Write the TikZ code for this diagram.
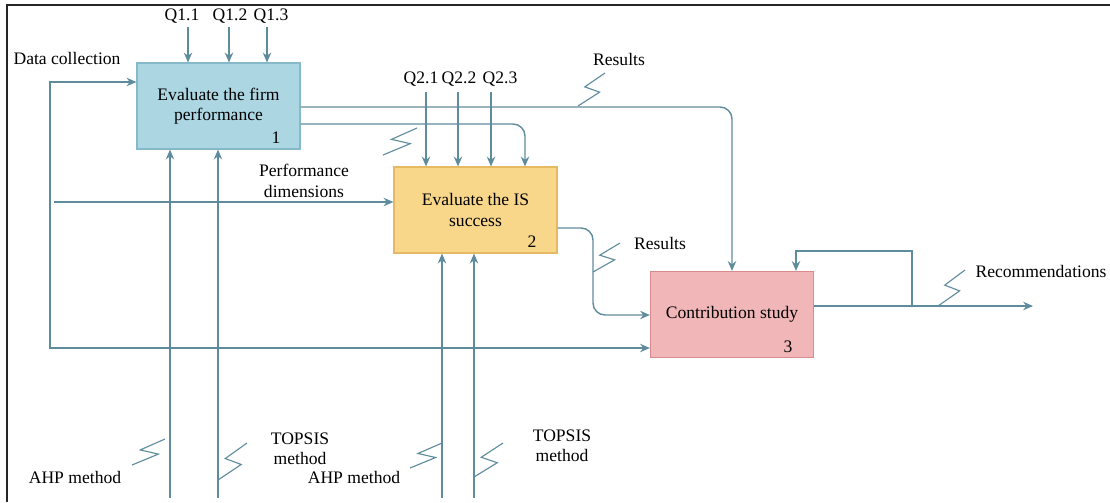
\documentclass[tikz,border=0pt]{standalone}
\usepackage{fontspec}
\setmainfont{Liberation Serif}
\usetikzlibrary{arrows.meta, calc}
\definecolor{linec}{HTML}{5F8C9C}
\definecolor{boxblue}{HTML}{ADD6E3}
\definecolor{edgeblue}{HTML}{86B9CA}
\definecolor{boxamber}{HTML}{F8D68A}
\definecolor{edgeamber}{HTML}{E6BA62}
\definecolor{boxrose}{HTML}{F0B6B8}
\definecolor{edgerose}{HTML}{D88A8E}

% lightning mark on a tunnelled arrow
\newcommand{\idefzap}[4]{\draw[linec, line width=0.8pt] (#1,#2) -- ++({0.8*#3},{-0.42*#4}) -- ++({-0.55*#3},{-0.16*#4}) -- ++({0.75*#3},{-0.42*#4});}

\begin{document}
\begin{tikzpicture}[x=0.025cm, y=-0.025cm, >={Stealth[length=7pt,width=6pt]},
  font=\fontsize{12.5}{14.5}\selectfont,
  flowline/.style={draw=linec, line width=1pt},
  box/.style={draw, line width=0.8pt, minimum width=4.075cm, minimum height=2.15cm, align=center, inner sep=2pt},
  lbl/.style={align=center, inner sep=1pt}]
  \useasboundingbox (0,0) rectangle (1110,502);
  % Frame (top and left edges)
  \draw[line width=1.5pt, black!85] (7,502) -- (7,5) -- (1110,5);

  % Activities
  \node[box, fill=boxblue, draw=edgeblue] (b1) at (218.5,106) {Evaluate the firm\\performance};
  \node[box, fill=boxamber, draw=edgeamber] (b2) at (475.5,210) {Evaluate the IS\\success};
  \node[box, fill=boxrose, draw=edgerose] (b3) at (732,314.5) {Contribution study};
  \node (n1) at (276,138) {1};
  \node (n2) at (532,242) {2};
  \node (n3) at (788,347) {3};

  % Controls of activity 1
  \node[lbl] (q11) at (182,16) {Q1.1};
  \node[lbl] (q12) at (230,16) {Q1.2};
  \node[lbl] (q13) at (271,16) {Q1.3};
  \coordinate (c11) at (188,27);
  \coordinate (c12) at (229,27);
  \coordinate (c13) at (267,27);
  \draw[flowline,->] (c11) -- (c11 |- b1.north);
  \draw[flowline,->] (c12) -- (c12 |- b1.north);
  \draw[flowline,->] (c13) -- (c13 |- b1.north);

  % Controls of activity 2
  \node[lbl] (q21) at (421,79) {Q2.1};
  \node[lbl] (q22) at (459,79) {Q2.2};
  \node[lbl] (q23) at (500,79) {Q2.3};
  \coordinate (c21) at (426,92);
  \coordinate (c22) at (458,92);
  \coordinate (c23) at (491,92);
  \draw[flowline,->] (c21) -- (c21 |- b2.north);
  \draw[flowline,->] (c22) -- (c22 |- b2.north);
  \draw[flowline,->] (c23) -- (c23 |- b2.north);

  % Data collection
  \node[lbl] (dc) at (67,58) {Data collection};
  \coordinate (dc1) at (50,82);
  \coordinate (dc2) at (50,348);
  \draw[flowline,<->] (dc1 -| b1.west) -- (dc1) -- (dc2) -- (dc2 -| b3.west);

  % Performance dimensions
  \node[lbl] (pd) at (304,181) {Performance\\dimensions};
  \coordinate (pd1) at (54,202);
  \draw[flowline,->] (pd1) -- (pd1 -| b2.west);

  % Mechanisms
  \node[lbl] (ahp1) at (75,477) {AHP method};
  \node[lbl] (top1) at (300,449) {TOPSIS\\method};
  \node[lbl] (ahp2) at (354,477) {AHP method};
  \node[lbl] (top2) at (562,446) {TOPSIS\\method};
  \coordinate (m1) at (170,498);
  \coordinate (m2) at (218,498);
  \coordinate (m3) at (442,498);
  \coordinate (m4) at (474,498);
  \draw[flowline,->] (m1) -- (m1 |- b1.south);
  \draw[flowline,->] (m2) -- (m2 |- b1.south);
  \draw[flowline,->] (m3) -- (m3 |- b2.south);
  \draw[flowline,->] (m4) -- (m4 |- b2.south);

  % Outputs
  \node[lbl] (res1) at (619,59) {Results};
  \node[lbl] (res2) at (660,243) {Results};
  \node[lbl] (rec) at (1041,271) {Recommendations};
  \coordinate (r1) at (732,107);
  \coordinate (r2) at (525,124);
  \coordinate (r3) at (593,228);
  \coordinate (r4) at (593,315);
  \draw[flowline,->,rounded corners=0.3cm] (b1.east |- r1) -- (r1) -- (r1 |- b3.north);
  \draw[flowline,->,rounded corners=0.3cm] (b1.east |- r2) -- (r2) -- (r2 |- b2.north);
  \draw[flowline,->,rounded corners=0.3cm] (b2.east |- r3) -- (r3) -- (r4) -- (r4 -| b3.west);
  \coordinate (o1) at (1033,306);
  \draw[flowline,->] (b3.east |- o1) -- (o1);

  % Feedback loop
  \coordinate (fb1) at (912,306);
  \coordinate (fb2) at (912,251);
  \coordinate (fb3) at (796,251);
  \draw[flowline,->] (fb1) -- (fb2) -- (fb3) -- (fb3 |- b3.north);

  % Lightning marks
  \idefzap{578}{106}{27}{33}
  \idefzap{383}{155}{34}{27}
  \idefzap{593}{272}{27}{29}
  \idefzap{938}{306}{27}{36}
  \idefzap{132}{465}{33}{26}
  \idefzap{218}{480}{29}{37}
  \idefzap{410}{468}{32}{25}
  \idefzap{474}{477}{29}{34}
\end{tikzpicture}
\end{document}
